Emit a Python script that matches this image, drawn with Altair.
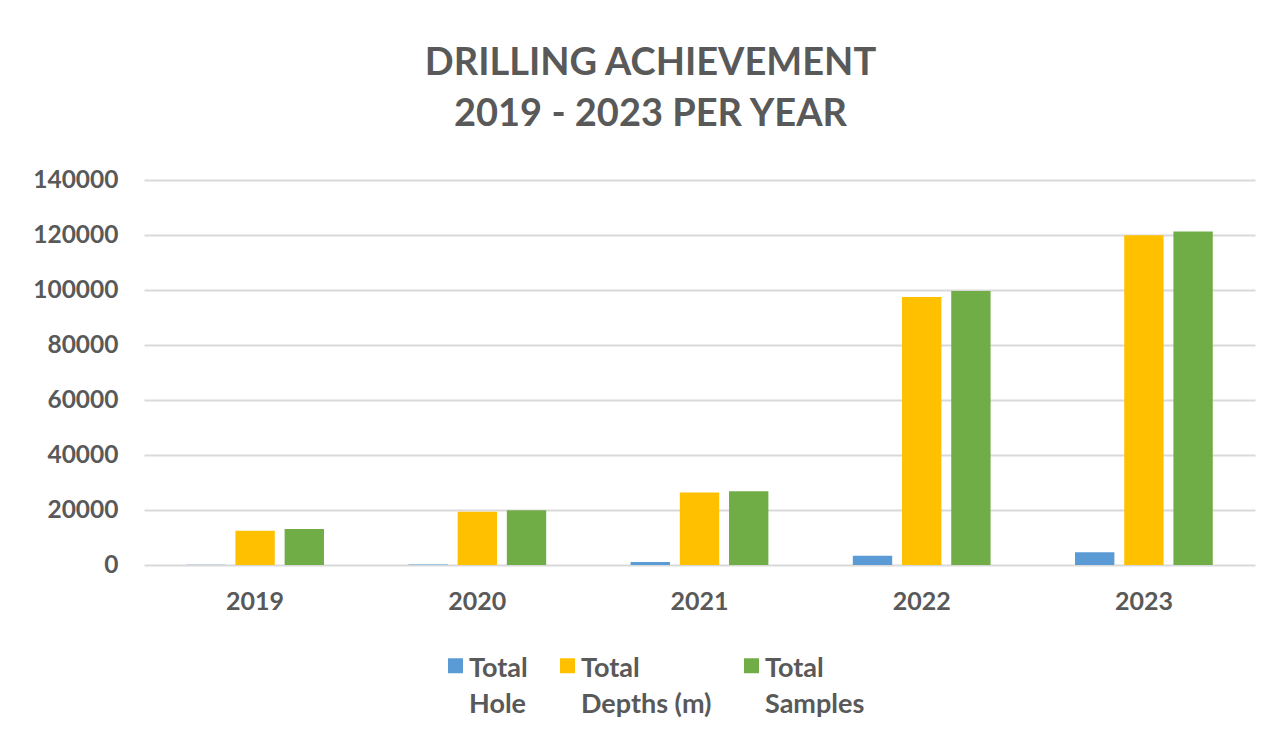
import altair as alt
import pandas as pd

years = ["2019", "2020", "2021", "2022", "2023"]
series = ["Total\nHole", "Total\nDepths (m)", "Total\nSamples"]
total_hole = [90, 140, 1100, 3400, 4600]
total_depths = [12500, 19400, 26400, 97500, 119900]
total_samples = [13100, 19900, 26800, 99600, 121300]
colors = ["#5B9BD5", "#FFC000", "#70AD47"]
y_ticks = [0, 20000, 40000, 60000, 80000, 100000, 120000, 140000]
title_lines = ["DRILLING ACHIEVEMENT", "2019 - 2023 PER YEAR"]

rows = []
for s, vals in zip(series, [total_hole, total_depths, total_samples]):
    for y, v in zip(years, vals):
        rows.append({"Year": y, "Series": s, "Value": v})
df = pd.DataFrame(rows)

FONT = "Lato"
TXT = "#595959"
DY = -10  # vertical nudge applied to all guide labels via style

chart = alt.Chart(df).mark_bar().encode(
    x=alt.X("Year:N", sort=years,
            scale=alt.Scale(paddingInner=0.38, paddingOuter=0.19),
            axis=alt.Axis(title=None, labelAngle=0, domain=False, ticks=False,
                          labelPadding=24 - DY, labelFontSize=25, labelFont=FONT,
                          labelFontWeight="bold", labelColor=TXT, grid=False)),
    xOffset=alt.XOffset("Series:N", sort=series,
                        scale=alt.Scale(paddingInner=0.2, paddingOuter=0)),
    y=alt.Y("Value:Q",
            scale=alt.Scale(domain=[0, 140000], nice=False),
            axis=alt.Axis(title=None, values=y_ticks, format="d", domain=False,
                          ticks=False, labelPadding=26, labelFontSize=24.5,
                          labelOffset=-DY,
                          labelFont=FONT, labelFontWeight="bold", labelColor=TXT,
                          gridColor="#D9D9D9", gridWidth=2)),
    color=alt.Color("Series:N", sort=series,
                    scale=alt.Scale(domain=series, range=colors),
                    legend=alt.Legend(title=None, orient="none", direction="horizontal",
                                      columns=3, legendX=298, legendY=472,
                                      symbolType="square", symbolSize=225,
                                      symbolStrokeWidth=0, symbolOffset=0,
                                      labelExpr="split(datum.label, '\\n')",
                                      labelFont=FONT, labelFontSize=27,
                                      labelFontWeight="bold", labelColor=TXT,
                                      labelBaseline="top", labelOffset=0,
                                      columnPadding=26, labelLimit=300)),
).properties(
    width=1111, height=385,
    title=alt.TitleParams(text=title_lines, font=FONT, fontSize=38, fontWeight="bold",
                          color=TXT, anchor="middle", lineHeight=51, dx=-49, offset=33),
    autosize=alt.AutoSizeParams(type="none"),
    padding={"left": 144, "top": 180, "right": 33, "bottom": 182},
).configure(
    background="white",
    style={"guide-label": {"lineHeight": 36, "dy": DY}},
    view=alt.ViewConfig(stroke=None, strokeWidth=0),
)

chart.save("out.html", embed_options={"renderer": "svg", "actions": False})
